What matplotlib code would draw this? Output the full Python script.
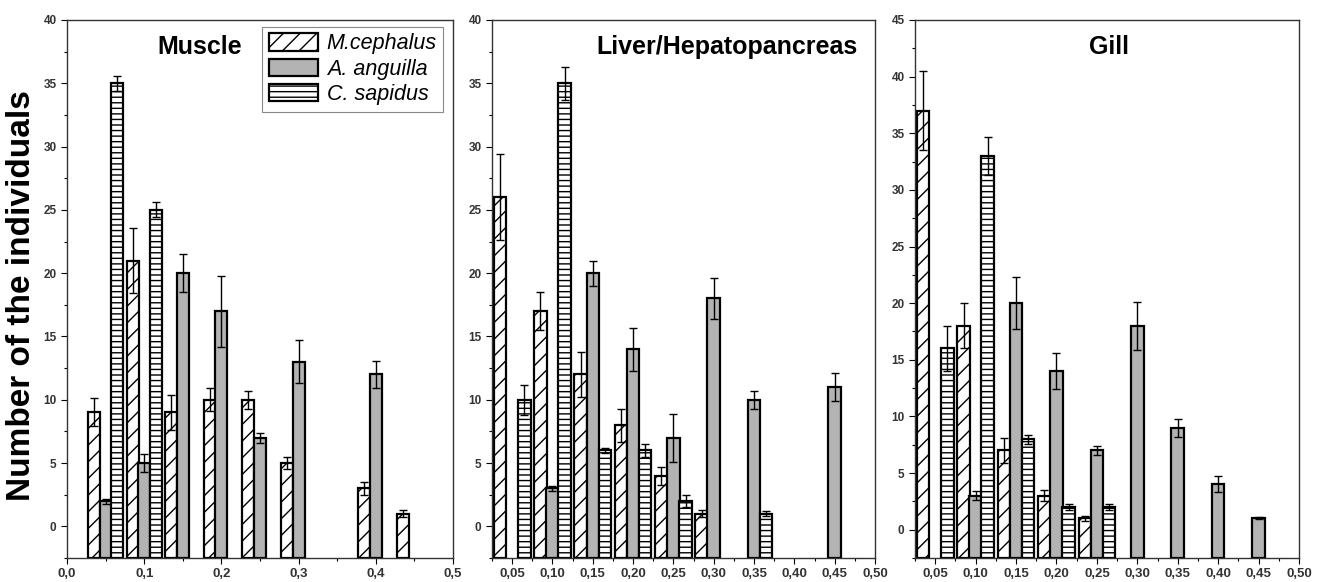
import matplotlib
matplotlib.use("Agg")
import matplotlib.pyplot as plt
import numpy as np
from matplotlib.ticker import MultipleLocator, FuncFormatter
from matplotlib.patches import Patch

plt.rcParams['font.family'] = ['Liberation Sans', 'DejaVu Sans']
plt.rcParams['hatch.linewidth'] = 1.0

species = ["M.cephalus", "A. anguilla", "C. sapidus"]
bins = [0.05, 0.10, 0.15, 0.20, 0.25, 0.30, 0.35, 0.40, 0.45]

# Muscle (None = no bar)
muscle_mc = [9, 21, 9, 10, 10, 5, None, 3, 1]
muscle_mc_err = [1.1, 2.6, 1.4, 0.9, 0.7, 0.5, None, 0.5, 0.3]
muscle_aa = [2, 5, 20, 17, 7, 13, None, 12, None]
muscle_aa_err = [0.2, 0.7, 1.5, 2.8, 0.4, 1.7, None, 1.1, None]
muscle_cs = [35, 25, None, None, None, None, None, None, None]
muscle_cs_err = [0.6, 0.6, None, None, None, None, None, None, None]

# Liver / Hepatopancreas
liver_mc = [26, 17, 12, 8, 4, 1, None, None, None]
liver_mc_err = [3.4, 1.5, 1.8, 1.3, 0.7, 0.3, None, None, None]
liver_aa = [None, 3, 20, 14, 7, 18, 10, None, 11]
liver_aa_err = [None, 0.2, 1.0, 1.7, 1.9, 1.6, 0.7, None, 1.1]
liver_cs = [10, 35, 6, 6, 2, None, 1, None, None]
liver_cs_err = [1.2, 1.3, 0.2, 0.5, 0.5, None, 0.2, None, None]

# Gill
gill_mc = [37, 18, 7, 3, 1, None, None, None, None]
gill_mc_err = [3.5, 2.0, 1.1, 0.5, 0.2, None, None, None, None]
gill_aa = [None, 3, 20, 14, 7, 18, 9, 4, 1]
gill_aa_err = [None, 0.4, 2.3, 1.6, 0.4, 2.1, 0.8, 0.7, 0.1]
gill_cs = [16, 33, 8, 2, 2, None, None, None, None]
gill_cs_err = [2.0, 1.7, 0.4, 0.3, 0.3, None, None, None, None]

titles = ["Muscle", "Liver/Hepatopancreas", "Gill"]
ylims = [(-2.5, 40), (-2.5, 40), (-2.5, 45)]
xlims = [(0.0, 0.5), (0.025, 0.5), (0.025, 0.5)]

W, H = 1321, 582
fig = plt.figure(figsize=(W / 100, H / 100), dpi=100)

panels = [
    ((muscle_mc, muscle_mc_err), (muscle_aa, muscle_aa_err), (muscle_cs, muscle_cs_err)),
    ((liver_mc, liver_mc_err), (liver_aa, liver_aa_err), (liver_cs, liver_cs_err)),
    ((gill_mc, gill_mc_err), (gill_aa, gill_aa_err), (gill_cs, gill_cs_err)),
]
pos_px = [(67, 453), (492, 875), (915, 1299)]
top_px, bot_px = 20, 558

styles = [dict(facecolor="white", hatch="//"),
          dict(facecolor="#b3b3b3", hatch=None),
          dict(facecolor="white", hatch="---")]
offsets = [-0.015, 0.0, 0.015]
bw = 0.0155

fmt = lambda v, p: ("%.1f" % v).replace(".", ",")
fmt2 = lambda v, p: ("%.2f" % v).replace(".", ",")

axes = []
for i, (series, (l, r)) in enumerate(zip(panels, pos_px)):
    ax = fig.add_axes([l / W, 1 - bot_px / H, (r - l) / W, (bot_px - top_px) / H])
    axes.append(ax)
    base = ylims[i][0]
    for s, ((vals, errs), st, off) in enumerate(zip(series, styles, offsets)):
        xs = [b + off for b, v in zip(bins, vals) if v is not None]
        vs = [v for v in vals if v is not None]
        es = [e for v, e in zip(vals, errs) if v is not None]
        ax.bar(xs, [v - base for v in vs], bottom=base, width=bw,
               facecolor=st["facecolor"], hatch=st["hatch"], edgecolor="black",
               linewidth=1.6, zorder=2)
        ax.errorbar(xs, vs, yerr=es, fmt="none", ecolor="black", elinewidth=1.0,
                    capsize=3, capthick=1.0, zorder=3)
    ax.set_xlim(*xlims[i])
    ax.set_ylim(*ylims[i])
    ax.yaxis.set_major_locator(MultipleLocator(5))
    ax.yaxis.set_minor_locator(MultipleLocator(2.5))
    if i == 0:
        ax.xaxis.set_major_locator(MultipleLocator(0.1))
        ax.xaxis.set_minor_locator(MultipleLocator(0.05))
        ax.xaxis.set_major_formatter(FuncFormatter(fmt))
    else:
        ax.xaxis.set_major_locator(MultipleLocator(0.05))
        ax.xaxis.set_minor_locator(MultipleLocator(0.025))
        ax.xaxis.set_major_formatter(FuncFormatter(fmt2))
    ax.tick_params(which="both", direction="out", width=0.8)
    ax.tick_params(axis="x", labelsize=9.5)
    ax.tick_params(axis="y", labelsize=8.5)
    ax.tick_params(which="major", length=4)
    ax.tick_params(which="minor", length=2.5)
    for lab in ax.get_xticklabels() + ax.get_yticklabels():
        lab.set_fontweight("bold")
        lab.set_color("#333333")
    for sp in ax.spines.values():
        sp.set_linewidth(1.0)
        sp.set_color("#333333")

axes[0].text(0.345, 0.95, titles[0], transform=axes[0].transAxes, ha="center",
             va="center", fontsize=18, fontweight="bold")
axes[1].text(0.955, 0.95, titles[1], transform=axes[1].transAxes, ha="right",
             va="center", fontsize=18, fontweight="bold")
axes[2].text(0.505, 0.95, titles[2], transform=axes[2].transAxes, ha="center",
             va="center", fontsize=18, fontweight="bold")

handles = [Patch(facecolor=st["facecolor"], hatch=st["hatch"], edgecolor="black",
                 linewidth=1.6, label=sp) for st, sp in zip(styles, species)]
leg = axes[0].legend(handles=handles, loc="upper right", bbox_to_anchor=(0.975, 0.987),
                     prop=dict(style="italic", size=15.5), handlelength=2.3,
                     handleheight=0.85, labelspacing=0.2, borderpad=0.3,
                     handletextpad=0.4, borderaxespad=0.0, fancybox=False,
                     edgecolor="#888888", framealpha=1)
leg.get_frame().set_linewidth(0.8)

fig.text(22 / W, 1 - 296 / H, "Number of the individuals", rotation=90, ha="center",
         va="center", fontsize=24, fontweight="bold")

fig.savefig("out.png", dpi=100)
